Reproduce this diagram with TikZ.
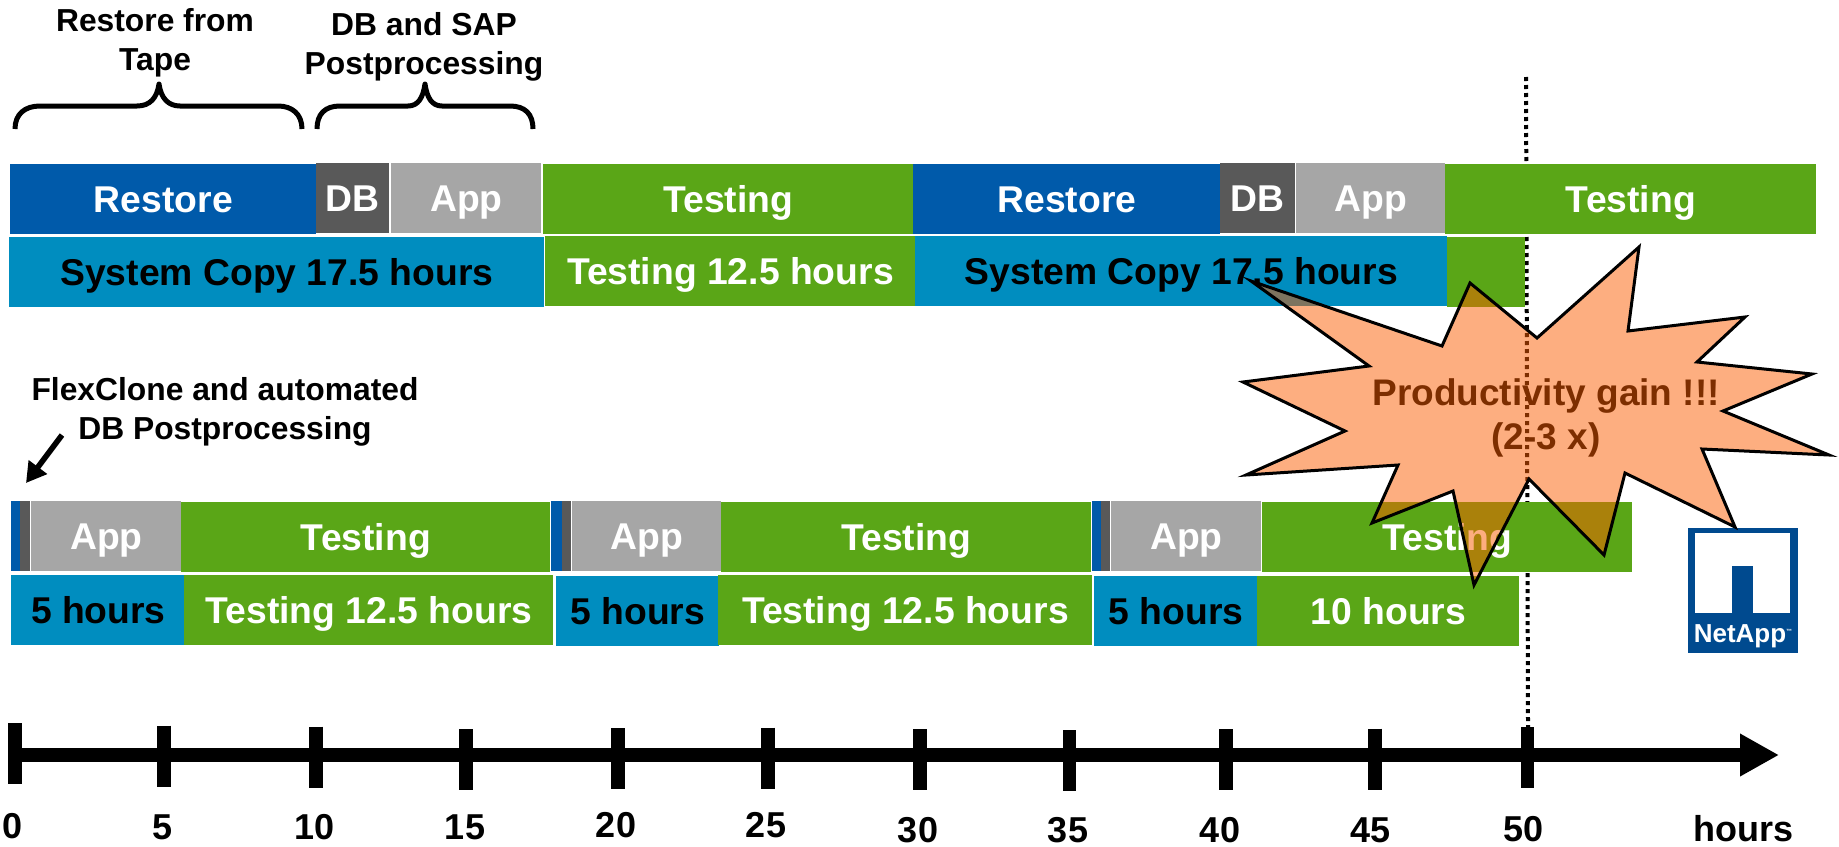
\documentclass[tikz,border=0pt]{standalone}
\usepackage{fontspec}
\setmainfont{Liberation Sans}
\usetikzlibrary{arrows.meta}
\definecolor{restoreblue}{HTML}{005AAA}
\definecolor{dbgrey}{HTML}{595959}
\definecolor{appgrey}{HTML}{A6A6A6}
\definecolor{testgreen}{HTML}{5AA617}
\definecolor{copyblue}{HTML}{008DBF}
\definecolor{burstorange}{HTML}{FB5D01}
\definecolor{logoblue}{HTML}{004A8F}
\tikzset{
  segment/.style={rectangle,inner sep=0pt,anchor=north west,minimum height=35pt,
    font=\fontsize{18.65}{20}\bfseries,text height=13.2pt,text depth=0pt},
  restorebar/.style={segment,fill=restoreblue,text=white},
  dbbar/.style={segment,fill=dbgrey,text=white},
  appbar/.style={segment,fill=appgrey,text=white},
  testbar/.style={segment,fill=testgreen,text=white},
  copybar/.style={segment,fill=copyblue,text=black},
  note/.style={align=center,inner sep=0pt,font=\fontsize{15.9}{19.5}\bfseries},
  curlybrace/.style={line width=2.5pt,line join=round},
  axisline/.style={line width=7pt},
  axislabel/.style={inner sep=0pt,font=\fontsize{18}{20}\bfseries}
}
\begin{document}
\begin{tikzpicture}[x=0.5pt,y=-0.5pt]
        \useasboundingbox (0,0) rectangle (1839,846);
        % dotted marker
        \coordinate (markertop) at (1526,77);
        \coordinate (markerbottom) at (1528,727);
        \draw [line width=2pt,dash pattern=on 2pt off 2pt] (markertop) -- (markerbottom);
        % braces and notes
        \draw [curlybrace] (15,129) .. controls (15,114) and (25,106) .. (40,106) -- (137,106) .. controls (150,106) and (157,98) .. (159,84) .. controls (161,98) and (168,106) .. (180,106) -- (278,106) .. controls (292,106) and (302,114) .. (302,129);
        \draw [curlybrace] (317,129) .. controls (317,114) and (325,106) .. (340,106) -- (408,106) .. controls (418,106) and (423,98) .. (425,84) .. controls (427,98) and (432,106) .. (442,106) -- (510,106) .. controls (525,106) and (533,114) .. (533,129);
        \node [note] (tapenote) at (155,43) {Restore from\\Tape};
        \node [note] (postnote) at (424,46.5) {DB and SAP\\Postprocessing};
        \node [note] (flexnote) at (225,412) {FlexClone and automated\\DB Postprocessing};
        \coordinate (flexfrom) at (62,435);
        \coordinate (flexto) at (26,483);
        \draw [line width=2.8pt,-{Triangle[length=10pt,width=11pt]}] (flexfrom) -- (flexto);
        % first schedule
        \node [restorebar,minimum width=153pt] (restoreA) at (10,164) {Restore};
        \node [dbbar,minimum width=36.5pt] (dbA) at (316,163) {DB};
        \node [appbar,minimum width=75pt] (appA) at (391,163) {App};
        \node [testbar,minimum width=185pt] (testA) at (543,164) {Testing};
        \node [restorebar,minimum width=153.5pt] (restoreB) at (913,164) {Restore};
        \node [dbbar,minimum width=37.5pt] (dbB) at (1220,163) {DB};
        \node [appbar,minimum width=74.5pt] (appB) at (1296,163) {App};
        \node [testbar,minimum width=185.5pt] (testB) at (1445,164) {Testing};
        \node [copybar,minimum width=267.5pt] (copyA) at (9,237) {System Copy 17.5 hours};
        \node [testbar,minimum width=185pt] (testC) at (545,236) {Testing 12.5 hours};
        \node [copybar,minimum width=266pt] (copyB) at (915,236) {System Copy 17.5 hours};
        \node [testbar,minimum width=39pt] (testD) at (1447,237) {};
        % second schedule
        \node [restorebar,minimum width=4.5pt] (restoreC) at (11,501) {};
        \node [dbbar,minimum width=5pt] (dbC) at (20,501) {};
        \node [appbar,minimum width=75pt] (appC) at (31,501) {App};
        \node [testbar,minimum width=184.5pt] (testE) at (181,502) {Testing};
        \node [restorebar,minimum width=5.5pt] (restoreD) at (551,501) {};
        \node [dbbar,minimum width=4.5pt] (dbD) at (562,501) {};
        \node [appbar,minimum width=74.5pt] (appD) at (572,501) {App};
        \node [testbar,minimum width=185pt] (testF) at (721,502) {Testing};
        \node [restorebar,minimum width=4.5pt] (restoreE) at (1092,501) {};
        \node [dbbar,minimum width=4.5pt] (dbE) at (1101,501) {};
        \node [appbar,minimum width=75pt] (appE) at (1111,501) {App};
        \node [testbar,minimum width=185pt] (testG) at (1262,502) {Testing};
        \node [copybar,minimum width=87pt] (copyC) at (11,575) {5 hours};
        \node [testbar,minimum width=184.5pt] (testH) at (184,575) {Testing 12.5 hours};
        \node [copybar,minimum width=81.5pt] (copyD) at (556,576) {5 hours};
        \node [testbar,minimum width=187pt] (testI) at (718,575) {Testing 12.5 hours};
        \node [copybar,minimum width=81.5pt] (copyE) at (1094,576) {5 hours};
        \node [testbar,minimum width=131pt] (testJ) at (1257,576) {10 hours};
        % time axis
        \coordinate (axisstart) at (15,755);
        \coordinate (axisend) at (1779,755);
        \draw [axisline,-{Triangle[length=19.5pt,width=20pt]}] (axisstart) -- (axisend);
        \foreach \tickx/\ticky/\lblx/\lbly/\hour in {15/753.5/13/826/0,164/756/163/827/5,316/757/315/827/10,466/759.5/465/827/15,618/758.5/616/825/20,768/758/766/825/25,920/759.5/918/830/30,1069.5/760.5/1068/830/35,1226/759.5/1220/830/40,1375/759/1370/830/45,1527.5/757.5/1523/829/50}
        {
          \draw [line width=6.6pt] (\tickx,\ticky-30.5) -- (\tickx,\ticky+30.5);
          \node [axislabel] (hour\hour) at (\lblx,\lbly) {\hour};
        }
        \node [axislabel] (hourunit) at (1743,829) {hours};
        % logo
        \fill [logoblue] (1688,528) rectangle (1798,653);
        \fill [white] (1695,533) rectangle (1790,613);
        \fill [logoblue] (1732,566) rectangle (1753,613);
        \node [inner sep=0pt,text=white,font=\fontsize{13}{14}\bfseries] (logotext) at (1743,636) {NetApp\raisebox{4.5pt}{\fontsize{3}{3}\selectfont ™}};
        % burst goes over the bars and its own text
        \node [align=center,inner sep=0pt,font=\fontsize{18.5}{22}\bfseries] (gain) at (1546,417.5) {Productivity gain !!!\\(2-3 x)};
        \draw [line width=1.5pt,line join=miter,fill=burstorange,fill opacity=0.5] (1251,281) -- (1442,346) -- (1470,283) -- (1537,338) -- (1639,247) -- (1628,331) -- (1745,317) -- (1697,362) -- (1812,374) -- (1723,411) -- (1829,455) -- (1702,449) -- (1735,527) -- (1625,473) -- (1604,555) -- (1529,479) -- (1474,585) -- (1453,491) -- (1372,523) -- (1398,465) -- (1246,475) -- (1345,431) -- (1243,382) -- (1369,366) -- cycle;
        \end{tikzpicture}
\end{document}
